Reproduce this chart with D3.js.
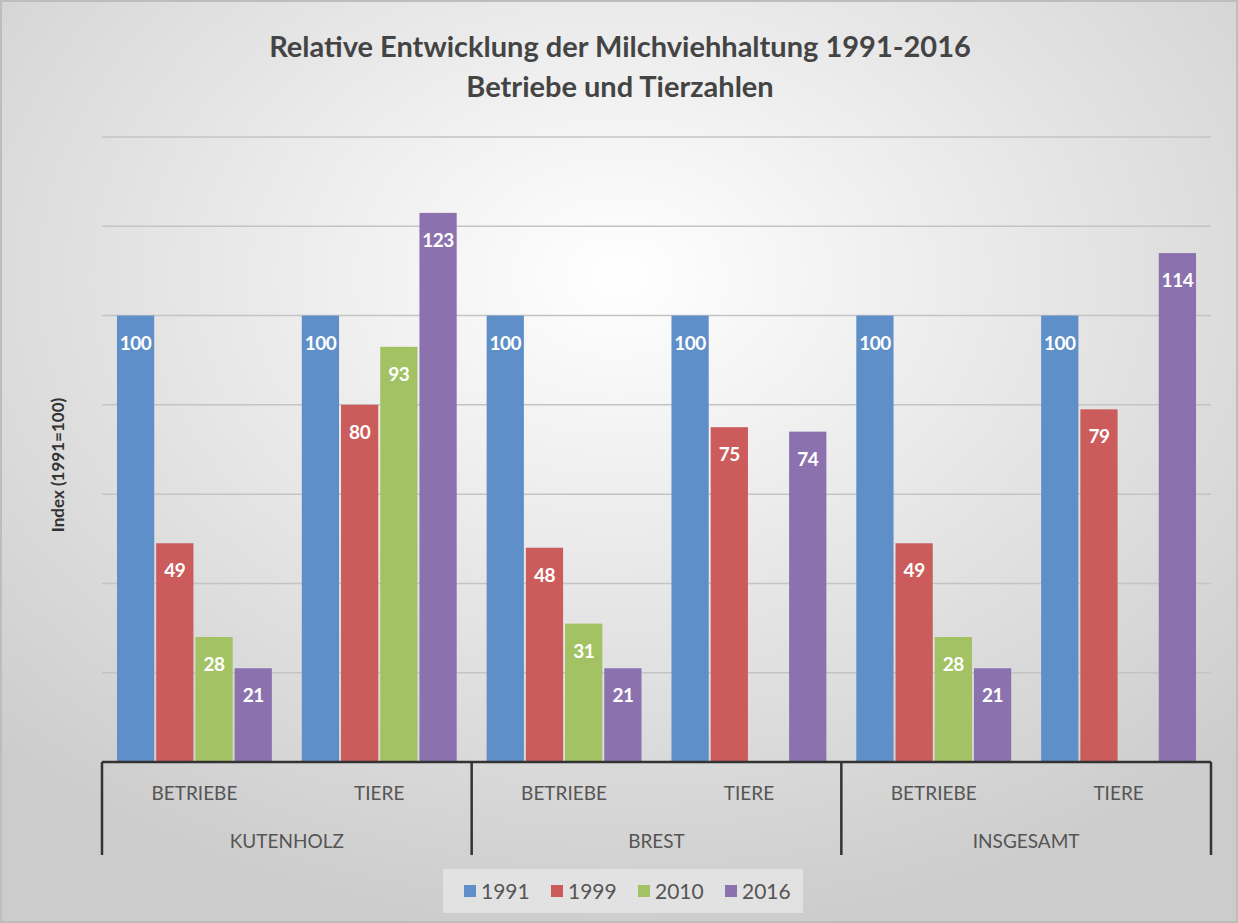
<!DOCTYPE html>
<html>
<head>
<meta charset="utf-8">
<script src="https://cdn.jsdelivr.net/npm/d3@7"></script>
<style>
  body { margin: 0; }
  svg { display: block; font-family: Lato, "Open Sans", sans-serif; }
</style>
</head>
<body>
<svg width="1238" height="923"></svg>
<script>
const regions = ['KUTENHOLZ', 'BREST', 'INSGESAMT'];
const kinds = ['BETRIEBE', 'TIERE'];
const years = ['1991', '1999', '2010', '2016'];
// one value per (region, kind) in order; null = no bar
const v1991 = [100, 100, 100, 100, 100, 100];
const v1999 = [49, 80, 48, 75, 49, 79];
const v2010 = [28, 93, 31, null, 28, null];
const v2016 = [21, 123, 21, 74, 21, 114];
const colors = ['#5f8fc8', '#cb5c5b', '#a2c264', '#8b72ae'];

const series = [v1991, v1999, v2010, v2016];
const cats = [];
regions.forEach(r => kinds.forEach(k => cats.push(r + '|' + k)));

const svg = d3.select('svg');
const W = 1238, H = 923;

// background
const defs = svg.append('defs');
const rg = defs.append('radialGradient').attr('id', 'bg')
  .attr('cx', '50%').attr('cy', '30%').attr('r', '72%');
rg.append('stop').attr('offset', '0%').attr('stop-color', '#ffffff');
rg.append('stop').attr('offset', '100%').attr('stop-color', '#cccccc');
svg.append('rect').attr('width', W).attr('height', H).attr('fill', 'url(#bg)');
svg.append('rect').attr('x', 1).attr('y', 1).attr('width', W - 2).attr('height', H - 2)
  .attr('fill', 'none').attr('stroke', '#bdbdbd').attr('stroke-width', 2);

const pL = 102, pR = 1211, pT = 137, base = 762;

const y = d3.scaleLinear().domain([0, 140]).range([base, pT]);
const x0 = d3.scaleBand().domain(cats).range([pL, pR])
  .paddingInner(0.162).paddingOuter(0.081);
const x1 = d3.scaleBand().domain(years).range([0, x0.bandwidth()]).paddingInner(0.05);

// gridlines
svg.append('g').selectAll('line').data(d3.range(20, 141, 20)).join('line')
  .attr('x1', pL).attr('x2', pR)
  .attr('y1', d => y(d)).attr('y2', d => y(d))
  .attr('stroke', '#c4c4c4').attr('stroke-width', 1.5);

// bars
const rows = [];
cats.forEach((c, i) => years.forEach((yr, j) => {
  if (series[j][i] != null) rows.push({ cat: c, year: yr, value: series[j][i], col: colors[j] });
}));

const gBars = svg.append('g');
gBars.selectAll('rect').data(rows).join('rect')
  .attr('x', d => x0(d.cat) + x1(d.year))
  .attr('width', x1.bandwidth())
  .attr('y', d => y(d.value))
  .attr('height', d => base - y(d.value))
  .attr('fill', d => d.col);

gBars.selectAll('text').data(rows).join('text')
  .attr('x', d => x0(d.cat) + x1(d.year) + x1.bandwidth() / 2)
  .attr('y', d => y(d.value) + 34)
  .attr('text-anchor', 'middle')
  .attr('fill', '#fff').attr('font-weight', 'bold').attr('font-size', 19)
  .attr('letter-spacing', -0.5)
  .text(d => d.value);

// category axis
const ax = svg.append('g').attr('stroke', '#333').attr('stroke-width', 2.5);
ax.append('line').attr('x1', pL).attr('x2', pR).attr('y1', base).attr('y2', base);
const step = (pR - pL) / regions.length;
d3.range(regions.length + 1).forEach(i => {
  ax.append('line').attr('x1', pL + i * step).attr('x2', pL + i * step)
    .attr('y1', base).attr('y2', 855);
});

svg.append('g').selectAll('text').data(cats).join('text')
  .attr('x', d => x0(d) + x0.bandwidth() / 2)
  .attr('y', 800)
  .attr('text-anchor', 'middle').attr('font-size', 19).attr('fill', '#555')
  .text(d => d.split('|')[1]);

svg.append('g').selectAll('text').data(regions).join('text')
  .attr('x', (d, i) => pL + (i + 0.5) * step)
  .attr('y', 848)
  .attr('text-anchor', 'middle').attr('font-size', 19).attr('fill', '#555')
  .text(d => d);

// titles
svg.append('text').attr('x', 620).attr('y', 57).attr('text-anchor', 'middle')
  .attr('font-size', 29).attr('font-weight', 'bold').attr('fill', '#444')
  .text('Relative Entwicklung der Milchviehhaltung 1991-2016');
svg.append('text').attr('x', 620).attr('y', 97).attr('text-anchor', 'middle')
  .attr('font-size', 29).attr('font-weight', 'bold').attr('fill', '#444')
  .text('Betriebe und Tierzahlen');

svg.append('text')
  .attr('transform', 'translate(64,465) rotate(-90)')
  .attr('text-anchor', 'middle').attr('font-size', 17).attr('font-weight', 'bold')
  .attr('fill', '#333')
  .text('Index (1991=100)');

// legend
const lg = svg.append('g').attr('transform', 'translate(443,869)');
lg.append('rect').attr('width', 360).attr('height', 44).attr('fill', '#e6e6e6').attr('opacity', 0.8);
const li = lg.selectAll('g').data(years).join('g')
  .attr('transform', (d, i) => `translate(${21 + i * 87},0)`);
li.append('rect').attr('y', 16).attr('width', 12).attr('height', 12)
  .attr('fill', (d, i) => colors[i]);
li.append('text').attr('x', 17).attr('y', 30).attr('font-size', 21).attr('fill', '#555')
  .text(d => d);
</script>
</body>
</html>
